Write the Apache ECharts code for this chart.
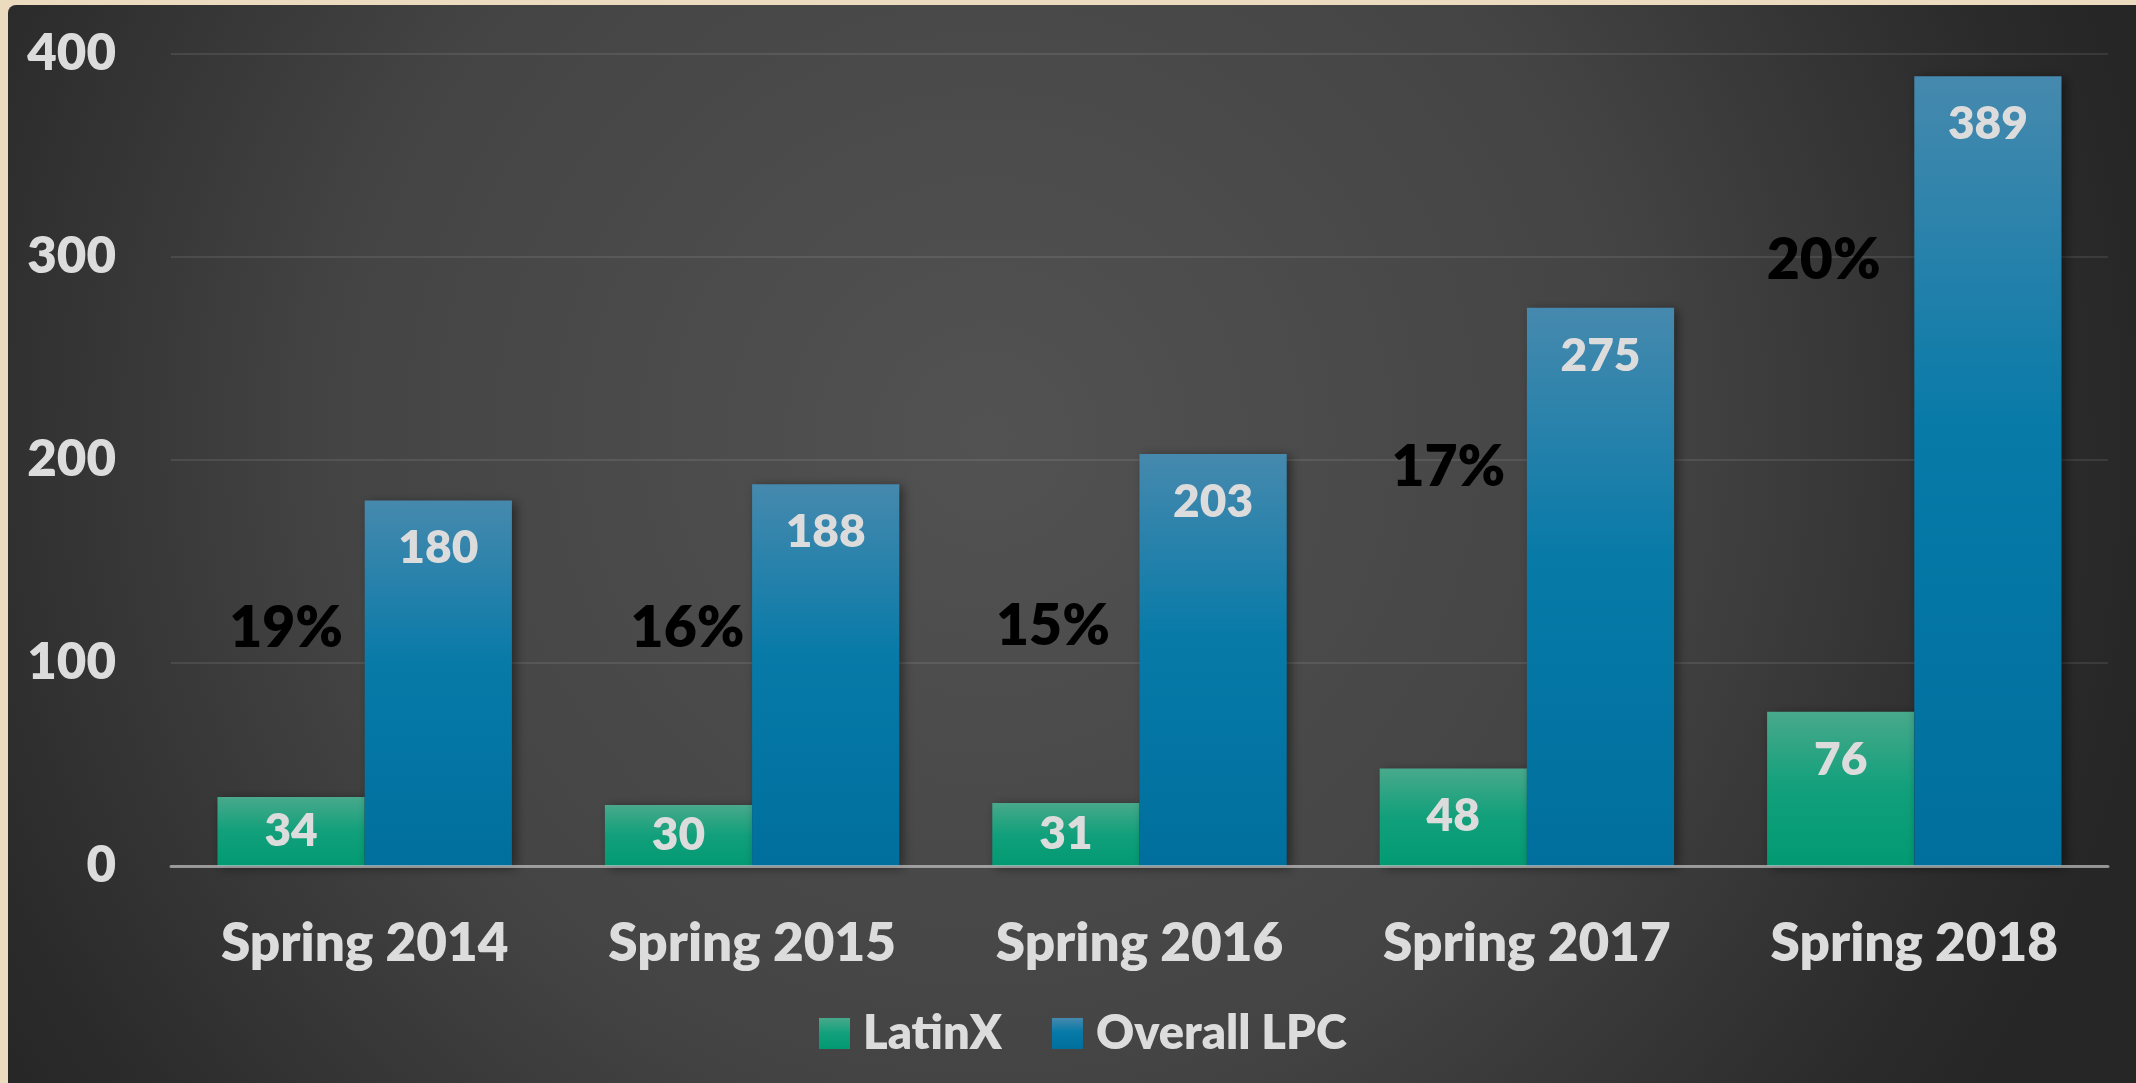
<!DOCTYPE html>
<html><head><meta charset="utf-8">
<script src="https://cdn.jsdelivr.net/npm/echarts@6/dist/echarts.min.js"></script>
<style>
html,body{margin:0;padding:0;background:#ebdbbf;width:2136px;height:1083px;overflow:hidden}
#c{position:absolute;left:8px;top:5px;width:2128px;height:1078px;border-top-left-radius:8px;overflow:hidden}
</style></head><body><div id="c"></div>
<script>
const categories = ['Spring 2014', 'Spring 2015', 'Spring 2016', 'Spring 2017', 'Spring 2018'];
const latinx = [34, 30, 31, 48, 76];
const overall = [180, 188, 203, 275, 389];
const pctLabels = ['19%', '16%', '15%', '17%', '20%'];
const seriesNames = ['LatinX', 'Overall LPC'];

// annotation placement (layout, not data)
const pctAnchorY = [117, 117, 118, 196, 298];
const pctOffsetX = [-5, 9, -13, -5, -17];

const FONT = 'Lato, "Open Sans", sans-serif';
const TXT = '#dcdcdc';
const W = 800;

const chart = echarts.init(document.getElementById('c'), null, {renderer: 'canvas'});

function barData(vals) {
  return vals.map(v => v < 40
    ? {value: v, label: {position: 'inside'}}
    : {value: v});
}

const option = {
  backgroundColor: {
    type: 'radial', x: 0.46, y: 0.4, r: 1.1,
    colorStops: [
      {offset: 0, color: '#525252'},
      {offset: 0.55, color: '#444444'},
      {offset: 0.9, color: '#2b2b2b'},
      {offset: 1, color: '#262626'}
    ]
  },
  textStyle: {fontFamily: FONT},
  animation: false,
  grid: {left: 163, right: 28, top: 49, bottom: 217, containLabel: false},
  legend: {
    data: seriesNames,
    left: 806, top: 1000,
    itemWidth: 31, itemHeight: 31, itemGap: 50,
    textStyle: {color: TXT, fontSize: 47, fontWeight: W, fontFamily: FONT, padding: [0, 0, 0, 8]},
    icon: 'rect'
  },
  xAxis: {
    type: 'category', data: categories, z: 10,
    axisLine: {show: true, lineStyle: {color: 'rgba(200,200,200,0.65)', width: 3}},
    axisTick: {show: false},
    axisLabel: {color: TXT, fontSize: 53, fontWeight: W, fontFamily: FONT, margin: 51}
  },
  yAxis: {
    type: 'value', min: 0, max: 400, interval: 100,
    axisLine: {show: false}, axisTick: {show: false},
    splitLine: {lineStyle: {color: 'rgba(255,255,255,0.09)', width: 2}},
    axisLabel: {color: TXT, fontSize: 51, fontWeight: W, fontFamily: FONT, margin: 55}
  },
  series: [
    {
      name: seriesNames[0], type: 'bar', data: barData(latinx),
      barWidth: '38%', barGap: '0%',
      itemStyle: {
        color: {type: 'linear', x: 0, y: 0, x2: 0, y2: 1, colorStops: [
          {offset: 0, color: '#48a98b'}, {offset: 0.5, color: '#11a07b'}, {offset: 1, color: '#029a72'}]},
        shadowBlur: 10, shadowColor: 'rgba(0,0,0,0.45)', shadowOffsetX: 4, shadowOffsetY: 2
      },
      label: {show: true, position: 'insideTop', distance: 25, color: TXT, fontSize: 46, fontWeight: W, fontFamily: FONT},
      markPoint: {
        symbol: 'circle', symbolSize: 0,
        label: {show: true, color: '#000', fontSize: 57, fontWeight: W, fontFamily: FONT, position: 'inside'},
        data: pctLabels.map((t, i) => ({
          coord: [categories[i], pctAnchorY[i]], value: t,
          label: {formatter: t, offset: [pctOffsetX[i], 0]}
        }))
      }
    },
    {
      name: seriesNames[1], type: 'bar', data: barData(overall),
      barWidth: '38%', barGap: '0%',
      itemStyle: {
        color: {type: 'linear', x: 0, y: 0, x2: 0, y2: 1, colorStops: [
          {offset: 0, color: '#4689ae'}, {offset: 0.45, color: '#077aa8'}, {offset: 1, color: '#006f9e'}]},
        shadowBlur: 10, shadowColor: 'rgba(0,0,0,0.45)', shadowOffsetX: 4, shadowOffsetY: 2
      },
      label: {show: true, position: 'insideTop', distance: 25, color: TXT, fontSize: 46, fontWeight: W, fontFamily: FONT}
    }
  ]
};
chart.setOption(option);
</script></body></html>
